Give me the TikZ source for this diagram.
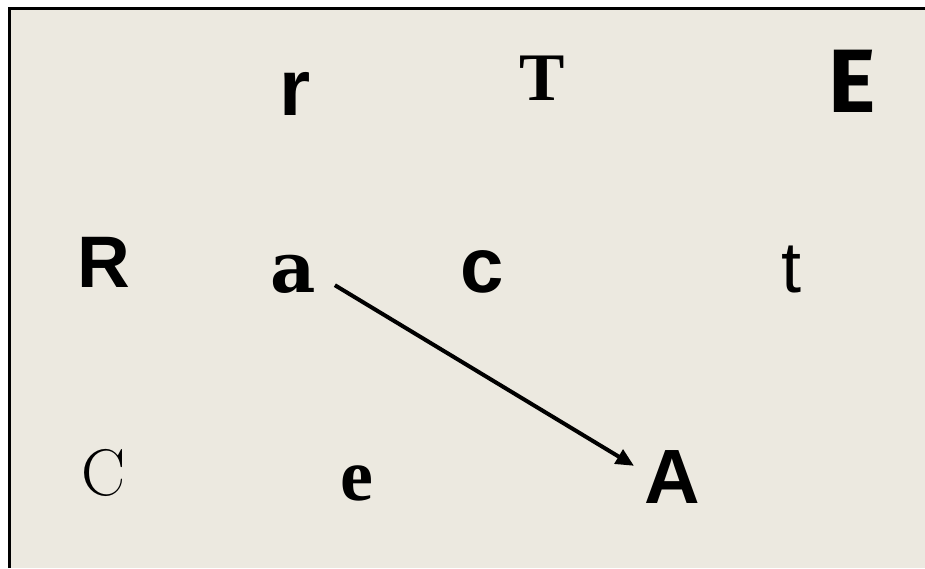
\documentclass[tikz,border=0pt]{standalone}
\usepackage{fontspec}
\usetikzlibrary{arrows.meta}
\newfontfamily\arialfont{Liberation Sans}
\newfontfamily\timesfont{Liberation Serif}
\newfontfamily\heavyfont{DejaVu Serif}
\newfontfamily\roundfont{Fira Sans}
\definecolor{paper}{RGB}{236,233,224}
\newcommand{\sz}[1]{\fontsize{#1}{#1}\selectfont}
\begin{document}
\begin{tikzpicture}[x=1pt,y=-1pt]
		\tikzstyle{letter}=[inner sep=0pt,anchor=base,text=black]
		\useasboundingbox (0,0) rectangle (925,568);
		\fill[paper] (9,8) rectangle (925,568);
		\draw[line width=3pt] (9,568) -- (9,8) -- (925,8);
		
		\node[letter] (r) at (295,115) {\arialfont\bfseries\sz{80}r};
		\node[letter] (T) at (542,100) {\timesfont\bfseries\sz{68}T};
		\node[letter] (E) at (852,112) {\roundfont\bfseries\sz{90}E};
		
		\node[letter] (R) at (104,287) {\arialfont\bfseries\sz{73}R};
		\node[letter] (a) at (293,292) {\heavyfont\bfseries\sz{70}a};
		\node[letter] (c) at (482,292) {\arialfont\bfseries\sz{78}c};
		\node[letter] (t) at (791,292) {\arialfont\sz{72}t};
		
		\node[letter] (C) at (104,495) {\sz{66}C};
		\node[letter] (e) at (357,500) {\timesfont\bfseries\sz{74}e};
		\node[letter] (A) at (672,503) {\arialfont\bfseries\sz{77}A};
		\draw [-{Triangle[length=18pt,width=16pt]},line width=4pt]([xshift=19pt,yshift=8pt]a.south east) -- ([xshift=-10pt,yshift=-16pt]A.north west);
	\end{tikzpicture}
\end{document}
